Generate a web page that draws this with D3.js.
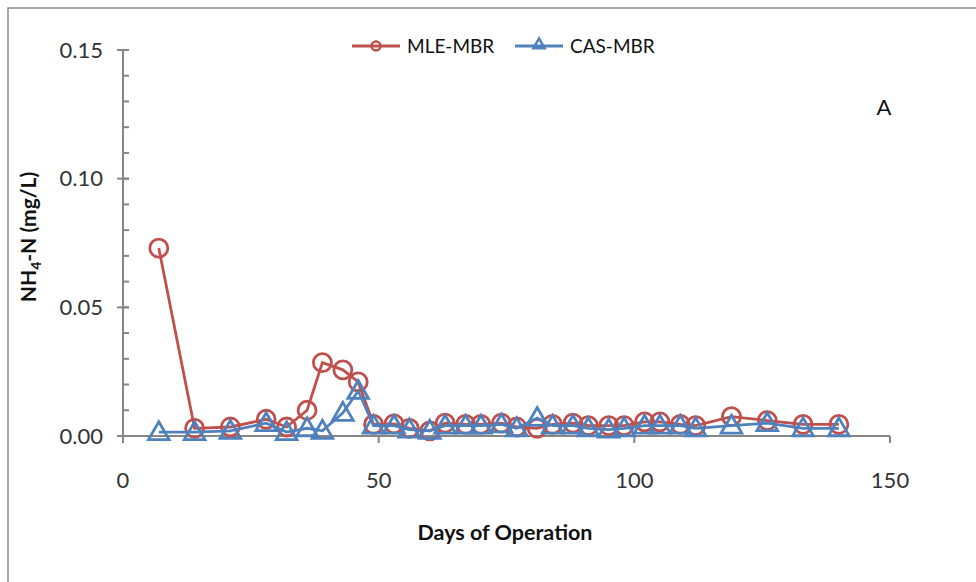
<!DOCTYPE html>
<html>
<head>
<meta charset="utf-8">
<script src="https://cdn.jsdelivr.net/npm/d3@7"></script>
<style>
  html, body { margin: 0; padding: 0; background: #fff; }
  svg { display: block; font-family: Lato, "Open Sans", sans-serif; }
</style>
</head>
<body>
<svg id="chart" width="976" height="582"></svg>
<script>
// Sampling days (days of operation)
const days = [7, 14, 21, 28, 32, 36, 39, 43, 46, 49, 53, 56, 60, 63, 67, 70, 74, 77, 81, 84,
              88, 91, 95, 98, 102, 105, 109, 112, 119, 126, 133, 140];

// NH4-N effluent concentrations (mg/L)
const mleMbr = [0.073, 0.003, 0.0035, 0.0065, 0.0035, 0.010, 0.0285, 0.0257, 0.021, 0.0045,
                0.0047, 0.003, 0.002, 0.005, 0.0045, 0.0045, 0.005, 0.0035, 0.003, 0.0045,
                0.005, 0.004, 0.004, 0.004, 0.0055, 0.0055, 0.0045, 0.004, 0.0075, 0.006,
                0.0045, 0.0045];
const casMbr = [0.0015, 0.0015, 0.002, 0.005, 0.0015, 0.003, 0.002, 0.009, 0.0175, 0.004,
                0.004, 0.0025, 0.002, 0.004, 0.004, 0.004, 0.0045, 0.003, 0.007, 0.004,
                0.004, 0.003, 0.0025, 0.003, 0.004, 0.004, 0.004, 0.003, 0.004, 0.005,
                0.003, 0.003];

const seriesNames = ["MLE-MBR", "CAS-MBR"];
const xTicks = [0, 50, 100, 150];
const yTicks = [0, 0.05, 0.10, 0.15];
const yMinorTicks = d3.range(0, 16).map(i => i / 100);

const colors = { "MLE-MBR": "#C0504D", "CAS-MBR": "#4F81BD" };
const axisColor = "#868686";

const svg = d3.select("#chart");

// outer frame (top and left edges)
svg.append("path")
  .attr("d", "M8,582 L8,8 L976,8")
  .attr("fill", "none").attr("stroke", "#8c8c8c").attr("stroke-width", 1.5);

const x = d3.scaleLinear().domain([0, 150]).range([123, 890]);
const y = d3.scaleLinear().domain([0, 0.15]).range([436, 50]);

// y axis: minor ticks inside, major ticks crossing
const gy = svg.append("g");
gy.append("line").attr("x1", x(0)).attr("x2", x(0)).attr("y1", y(0)).attr("y2", y(0.15))
  .attr("stroke", axisColor).attr("stroke-width", 2);
gy.selectAll("line.minor").data(yMinorTicks).join("line").attr("class", "minor")
  .attr("x1", x(0)).attr("x2", x(0) + 6)
  .attr("y1", d => y(d)).attr("y2", d => y(d))
  .attr("stroke", axisColor).attr("stroke-width", 2);
gy.selectAll("line.major").data(yTicks).join("line").attr("class", "major")
  .attr("x1", x(0) - 6).attr("x2", x(0) + 6)
  .attr("y1", d => y(d)).attr("y2", d => y(d))
  .attr("stroke", axisColor).attr("stroke-width", 2);
gy.selectAll("text").data(yTicks).join("text")
  .attr("x", 103).attr("y", d => y(d))
  .attr("dy", "0.35em").attr("text-anchor", "end")
  .attr("font-size", 22).attr("fill", "#333")
  .text(d => d3.format(".2f")(d));

// x axis
const gx = svg.append("g");
gx.append("line").attr("x1", x(0)).attr("x2", x(150)).attr("y1", y(0)).attr("y2", y(0))
  .attr("stroke", axisColor).attr("stroke-width", 2);
gx.selectAll("line.tick").data(xTicks).join("line").attr("class", "tick")
  .attr("x1", d => x(d)).attr("x2", d => x(d))
  .attr("y1", y(0)).attr("y2", y(0) + 7)
  .attr("stroke", axisColor).attr("stroke-width", 2);
gx.selectAll("text").data(xTicks).join("text")
  .attr("x", d => x(d)).attr("y", 480)
  .attr("dy", "0.35em").attr("text-anchor", "middle")
  .attr("font-size", 22).attr("fill", "#333")
  .text(d => d);

// axis titles
svg.append("text")
  .attr("x", 505).attr("y", 532).attr("dy", "0.35em")
  .attr("text-anchor", "middle").attr("font-size", 21.5).attr("font-weight", "bold")
  .attr("fill", "#111")
  .text("Days of Operation");

const yTitle = svg.append("text")
  .attr("transform", "translate(36,237) rotate(-90)")
  .attr("text-anchor", "middle").attr("font-size", 21).attr("font-weight", "bold")
  .attr("fill", "#111");
yTitle.append("tspan").text("NH");
yTitle.append("tspan").attr("font-size", 14).attr("dy", 5).text("4");
yTitle.append("tspan").attr("dy", -5).text("-N (mg/L)");

// panel label
svg.append("text").attr("x", 884).attr("y", 107).attr("dy", "0.35em")
  .attr("text-anchor", "middle").attr("font-size", 22).attr("fill", "#111").text("A");

// series
const series = [
  { name: "MLE-MBR", values: mleMbr, marker: "circle" },
  { name: "CAS-MBR", values: casMbr, marker: "triangle" }
];

const line = d3.line().x(d => x(d[0])).y(d => y(d[1]));
const triPath = d3.symbol().type(d3.symbolTriangle).size(185);

function drawMarker(g, kind, color) {
  if (kind === "circle") {
    g.append("circle").attr("r", 9).attr("fill", "none")
      .attr("stroke", color).attr("stroke-width", 2.8);
  } else {
    g.append("path").attr("d", triPath()).attr("transform", "translate(0,1.5)")
      .attr("fill", "none").attr("stroke", color).attr("stroke-width", 2.8)
      .attr("stroke-linejoin", "miter");
  }
}

series.forEach(s => {
  const pts = days.map((d, i) => [d, s.values[i]]);
  const color = colors[s.name];
  svg.append("path").datum(pts).attr("d", line)
    .attr("fill", "none").attr("stroke", color).attr("stroke-width", 2.8);
  const g = svg.append("g");
  pts.forEach(p => {
    const m = g.append("g").attr("transform", `translate(${x(p[0])},${y(p[1])})`);
    drawMarker(m, s.marker, color);
  });
});

// legend
const legendItems = [
  { name: "MLE-MBR", marker: "circle", x0: 352 },
  { name: "CAS-MBR", marker: "triangle", x0: 515 }
];
legendItems.forEach(it => {
  const color = colors[it.name];
  const g = svg.append("g").attr("transform", `translate(${it.x0},46)`);
  g.append("line").attr("x1", 0).attr("x2", 48).attr("stroke", color).attr("stroke-width", 2.8);
  const m = g.append("g").attr("transform", "translate(24,0)");
  if (it.marker === "circle") {
    m.append("circle").attr("r", 4.5).attr("fill", "none").attr("stroke", color).attr("stroke-width", 2.5);
  } else {
    m.append("path").attr("d", d3.symbol().type(d3.symbolTriangle).size(55)()).attr("transform", "translate(0,-1)")
      .attr("fill", "none").attr("stroke", color).attr("stroke-width", 2.5);
  }
  g.append("text").attr("x", 55).attr("y", 0).attr("dy", "0.35em")
    .attr("font-size", 19).attr("fill", "#111").text(it.name);
});
</script>
</body>
</html>
